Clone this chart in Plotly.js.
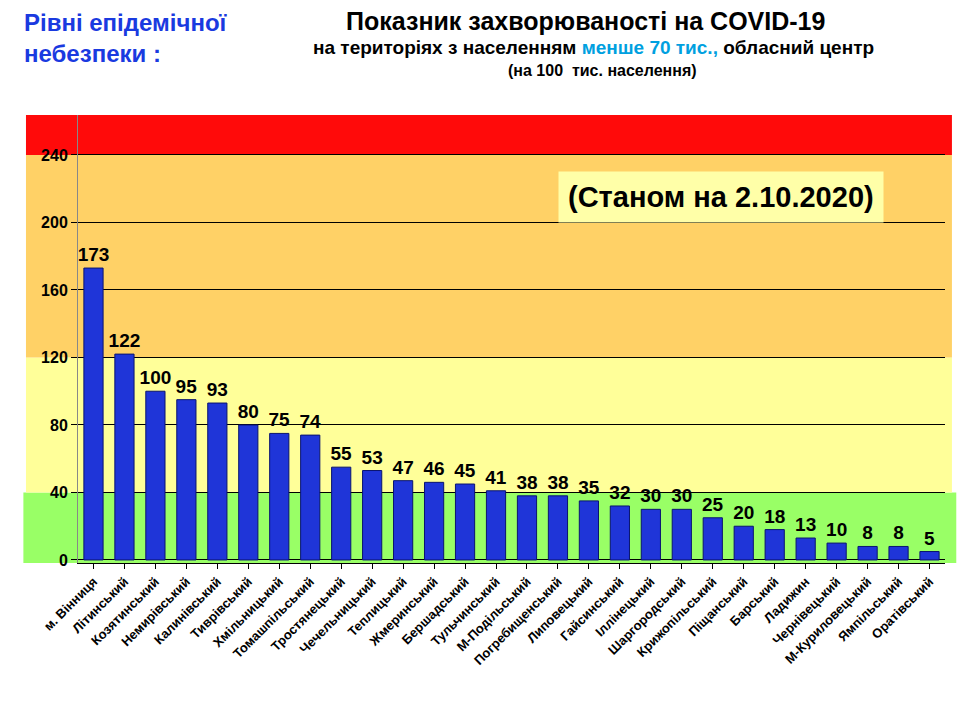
<!DOCTYPE html>
<html><head><meta charset="utf-8">
<script src="https://cdn.plot.ly/plotly-3.0.1.min.js"></script>
<style>body{margin:0;background:#fff}</style></head>
<body><div id="c" style="width:960px;height:720px"></div>
<script>
const categories = ["м. Вінниця","Літинський","Козятинський","Немирівський","Калинівський","Тиврівський","Хмільницький","Томашпільський","Тростянецький","Чечельницький","Теплицький","Жмеринський","Бершадський","Тульчинський","М-Подільський","Погребищенський","Липовецький","Гайсинський","Іллінецький","Шаргородський","Крижопільський","Піщанський","Барський","Ладижин","Чернівецький","М-Куриловецький","Ямпільський","Оратівський"];
const values = [173,122,100,95,93,80,75,74,55,53,47,46,45,41,38,38,35,32,30,30,25,20,18,13,10,8,8,5];
const yTicks = [0,40,80,120,160,200,240];
const bands = [[-1.8,40,"#99ff66",-0.063,1.013],[40,120,"#ffff99",-0.06,1.008],[120,240,"#ffd166",-0.06,1.008],[240,263.7,"#ff0a0a",-0.06,1.008]];
const shapes = bands.map(b=>({type:"rect",xref:"paper",yref:"y",x0:b[3],x1:b[4],y0:b[0],y1:b[1],fillcolor:b[2],line:{width:0},layer:"below"}));
const trace = {type:"bar",x:categories,y:values,text:values.map(String),textposition:"outside",cliponaxis:false,constraintext:"none",
  textfont:{family:"Liberation Sans Narrow, Arial Narrow, Arial",size:19,color:"#000",weight:"bold"},
  marker:{color:"#1f35d8",line:{color:"#0a1470",width:1}},width:0.62};
const layout = {width:960,height:720,margin:{l:78,r:15,t:115,b:157},paper_bgcolor:"#fff",plot_bgcolor:"rgba(0,0,0,0)",
  showlegend:false,shapes:shapes,bargap:0.38,
  xaxis:{tickangle:-45,tickfont:{family:"Arial",size:13,color:"#000",weight:"bold"},ticks:"outside",ticklen:5,tickcolor:"#000",showline:true,linecolor:"#000",showgrid:false},
  yaxis:{range:[-1.8,263.7],tickvals:yTicks,ticks:"outside",ticklen:6,tickcolor:"#000",showline:true,linecolor:"#888",showgrid:true,gridcolor:"#000",gridwidth:1,zeroline:false,
    tickfont:{family:"Arial",size:16,color:"#000",weight:"bold"}},
  annotations:[
    {xref:"paper",yref:"paper",x:-0.065,y:1.0,yshift:108,xanchor:"left",yanchor:"top",align:"left",showarrow:false,
      text:"<b>Рівні епідемічної<br>небезпеки :</b>",font:{family:"Arial",size:24,color:"#1a3ae0"}},
    {xref:"paper",y:1,yref:"paper",x:0.585,yshift:110,yanchor:"top",showarrow:false,text:"<b>Показник захворюваності на COVID-19</b>",font:{family:"Arial",size:25,color:"#000"}},
    {xref:"paper",y:1,yref:"paper",x:0.595,yshift:80,yanchor:"top",showarrow:false,text:"<b>на територіях з населенням <span style='color:#00a0e0'>менше 70 тис.,</span> обласний центр</b>",font:{family:"Arial",size:19,color:"#000"}},
    {xref:"paper",y:1,yref:"paper",x:0.605,yshift:55,yanchor:"top",showarrow:false,text:"<b>(на 100  тис. населення)</b>",font:{family:"Arial",size:16,color:"#000"}},
    {xref:"paper",yref:"y",x:0.93,y:215,xanchor:"right",showarrow:false,text:"<b>(Станом на 2.10.2020)</b>",bgcolor:"#ffffa8",borderpad:9,font:{family:"Arial",size:29,color:"#000"}}
  ]};
Plotly.newPlot("c",[trace],layout,{displayModeBar:false});
</script></body></html>
